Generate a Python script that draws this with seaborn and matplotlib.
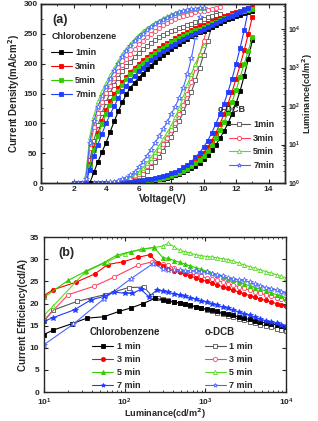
import numpy as np
import matplotlib
matplotlib.use("Agg")
import matplotlib.pyplot as plt
from matplotlib.lines import Line2D
from matplotlib.ticker import MultipleLocator, LogLocator, NullFormatter
import seaborn as sns

# ---------------------------------------------------------
# Data (a): J-V-L, voltage grid in 0.25 V steps
# ---------------------------------------------------------
volt = [2.0, 2.25, 2.5, 2.75, 3.0, 3.25, 3.5, 3.75, 4.0, 4.25, 4.5, 4.75,
        5.0, 5.25, 5.5, 5.75, 6.0, 6.25, 6.5, 6.75, 7.0, 7.25, 7.5, 7.75,
        8.0, 8.25, 8.5, 8.75, 9.0, 9.25, 9.5, 9.75, 10.0, 10.25, 10.5, 10.75,
        11.0, 11.25, 11.5, 11.75, 12.0, 12.25, 12.5, 12.75, 13.0]

# current density (mA/cm2), chlorobenzene, start at 2.0 V
cb1_J = [0, 0, 0, 0, 0, 0, 0, 0, 0, 0.1, 0.2, 0.3, 0.5, 0.8, 1.1, 1.5, 2.0, 2.6, 3.3, 4.1,
         5.0, 6.1, 7.4, 8.9, 10.6, 12.6, 15, 17.8, 21, 24.8, 29, 34, 40, 47, 55, 64,
         75, 87, 100, 116, 134, 155, 180, 208, 240]
cb3_J = [0, 0, 0, 0, 0, 0, 0, 0, 0.1, 0.2, 0.4, 0.6, 0.9, 1.3, 1.8, 2.4, 3.1, 3.9, 4.8,
         5.9, 7.1, 8.5, 10, 11.8, 13.8, 16, 18.8, 22, 26, 31, 36, 43, 51, 60, 71, 84,
         99, 115, 133, 153, 175, 198, 223, 250, 279]
cb5_J = [0, 0, 0, 0, 0, 0, 0, 0, 0, 0.1, 0.2, 0.4, 0.6, 0.9, 1.3, 1.8, 2.4, 3.1, 3.9,
         4.8, 5.9, 7.1, 8.5, 10.1, 12.3, 14.5, 17, 20, 24, 28, 33, 39, 46, 54, 64, 75,
         88, 102, 118, 136, 156, 178, 200, 222, 245]
cb7_J = [0, 0, 0, 0, 0, 0, 0, 0.1, 0.2, 0.4, 0.6, 0.9, 1.3, 1.8, 2.4, 3.1, 3.9, 4.8,
         5.9, 7.1, 8.5, 10, 11.8, 13.8, 16, 18.8, 22, 26, 31, 36, 43, 51, 60, 71, 84,
         99, 115, 133, 153, 175, 200, 227, 257, 290]

# current density (mA/cm2), o-DCB, start at 2.0 V
dcb1_J = [0, 0, 0, 0, 0, 0, 0, 0, 0, 0.3, 0.7, 1.3, 2.2, 3.5, 5.5, 8, 11, 15, 20, 27,
          35, 44, 54, 65, 77, 90, 104, 119, 135, 153, 172, 193, 215, 238, 262, 285]
dcb3_J = [0, 0, 0, 0, 0, 0, 0, 0, 0.3, 0.7, 1.3, 2.2, 3.3, 5, 7.5, 11, 15, 21, 28, 36,
          45, 55, 65, 76, 88, 101, 115, 131, 150, 170, 192, 215, 238, 265]
dcb5_J = [0, 0, 0, 0, 0, 0, 0, 0, 0.5, 1, 1.8, 2.8, 4, 6, 9, 13, 18, 25, 33, 42,
          52, 62, 73, 84, 96, 110, 125, 144, 165, 183, 200, 216, 232]
dcb7_J = [0, 0, 0, 0, 0, 0, 0, 0, 0.7, 1.3, 2.2, 3.5, 6, 9, 13, 19, 26, 35, 45, 56,
          67, 78, 90, 102, 115, 128, 143, 160, 182, 210, 245, 278]

# luminance, log10(cd/m2)
cb1_logL = [0.0, 0.28, 0.55, 0.8, 1.05, 1.33, 1.6, 1.86, 2.1, 2.3, 2.48, 2.61, 2.73,
            2.84, 2.95, 3.05, 3.15, 3.24, 3.32, 3.4, 3.48, 3.55, 3.62, 3.69, 3.75,
            3.81, 3.86, 3.91, 3.96, 4.01, 4.06, 4.11, 4.16, 4.2, 4.25, 4.29, 4.33,
            4.37, 4.41, 4.45, 4.48]                       # from 3.0 V
cb3_logL = [0.0, 0.5, 0.92, 1.3, 1.62, 1.9, 2.12, 2.3, 2.47, 2.62, 2.76, 2.88, 3.0,
            3.1, 3.19, 3.28, 3.36, 3.44, 3.51, 3.58, 3.64, 3.7, 3.76, 3.81, 3.87,
            3.92, 3.97, 4.02, 4.07, 4.11, 4.16, 4.2, 4.25, 4.29, 4.33, 4.37, 4.41,
            4.44, 4.48, 4.51, 4.54, 4.57]                 # from 2.75 V
cb5_logL = [0.0, 0.45, 0.85, 1.22, 1.53, 1.8, 2.03, 2.22, 2.39, 2.55, 2.69, 2.82,
            2.93, 3.04, 3.13, 3.22, 3.3, 3.38, 3.45, 3.52, 3.59, 3.65, 3.71, 3.76,
            3.82, 3.87, 3.92, 3.97, 4.01, 4.06, 4.1, 4.15, 4.19, 4.24, 4.28, 4.32,
            4.36, 4.4, 4.43, 4.47, 4.5, 4.53]             # from 2.75 V
cb7_logL = [0.0, 0.35, 0.7, 1.0, 1.28, 1.55, 1.78, 2.0, 2.2, 2.38, 2.53, 2.67, 2.79,
            2.9, 3.0, 3.1, 3.19, 3.27, 3.35, 3.42, 3.49, 3.56, 3.62, 3.68, 3.74, 3.8,
            3.85, 3.9, 3.95, 4.0, 4.05, 4.1, 4.15, 4.2, 4.25, 4.3, 4.35, 4.4, 4.45,
            4.5, 4.55]                                    # from 2.75 V
dcb1_logL = [0.6, 1.1, 1.5, 1.82, 2.1, 2.34, 2.55, 2.73, 2.9, 3.03, 3.15, 3.27, 3.38,
             3.47, 3.56, 3.64, 3.72, 3.78, 3.84, 3.89, 3.94, 3.98, 4.02, 4.06, 4.1,
             4.14, 4.18, 4.22, 4.26, 4.3, 4.34, 4.37, 4.4]  # from 3.0 V
dcb3_logL = [0.05, 0.9, 1.45, 1.82, 2.1, 2.33, 2.53, 2.72, 2.9, 3.06, 3.21, 3.35,
             3.48, 3.6, 3.7, 3.8, 3.88, 3.96, 4.03, 4.1, 4.16, 4.21, 4.26, 4.3, 4.34,
             4.37, 4.4, 4.43, 4.46, 4.48, 4.5, 4.53, 4.55, 4.56]  # from 2.75 V
dcb5_logL = [0.2, 1.2, 1.75, 2.12, 2.38, 2.6, 2.8, 2.98, 3.17, 3.35, 3.49, 3.62, 3.74,
             3.85, 3.94, 4.02, 4.09, 4.16, 4.22, 4.28, 4.33, 4.38, 4.42, 4.45, 4.48,
             4.5, 4.52, 4.53, 4.54, 4.55]                 # from 2.75 V
dcb7_logL = [0.1, 1.05, 1.6, 1.98, 2.26, 2.5, 2.71, 2.9, 3.09, 3.27, 3.42, 3.56, 3.68,
             3.79, 3.88, 3.97, 4.05, 4.12, 4.18, 4.24, 4.29, 4.34, 4.39, 4.43, 4.46,
             4.49, 4.51, 4.53, 4.54, 4.55]                # from 2.75 V

# ---------------------------------------------------------
# Data (b): current efficiency vs luminance
# ---------------------------------------------------------
tail_lum = [300, 350, 410, 480, 560, 650, 760, 890, 1040, 1210, 1410, 1650, 1920,
            2240, 2610, 3050, 3560, 4150, 4840, 5650, 6590, 7690, 8800, 10000]

cb1_lum = [10, 13, 22, 34, 55, 85, 120, 170, 240]
cb1_ce = [13.0, 14.0, 15.4, 16.7, 17.0, 18.2, 19.0, 20.0, 21.2]
cb1_tail = [20.8, 20.5, 20.3, 20.1, 19.8, 19.6, 19.3, 19.0, 18.7, 18.5, 18.2, 17.9,
            17.6, 17.3, 17.0, 16.7, 16.4, 16.1, 15.9, 15.6, 15.4, 15.2, 15.0, 14.8]
cb3_lum = [10, 13, 25, 43, 62, 95, 145, 205, 260]
cb3_ce = [21.8, 23.1, 24.8, 26.7, 28.8, 29.4, 30.4, 31.0, 29.1]
cb3_tail = [28.4, 27.8, 27.4, 27.0, 26.6, 26.2, 25.8, 25.4, 25.0, 24.6, 24.2, 23.8,
            23.4, 23.0, 22.6, 22.2, 21.8, 21.4, 21.0, 20.7, 20.3, 20.0, 19.7, 19.4]
cb5_lum = [10, 20, 33, 55, 80, 120, 170, 230]
cb5_ce = [21.4, 25.2, 27.3, 29.2, 30.9, 31.7, 32.2, 32.7]
cb5_tail = [30.3, 30.2, 29.7, 29.3, 28.9, 28.5, 28.1, 27.7, 27.3, 26.9, 26.5, 26.0,
            25.6, 25.2, 24.8, 24.4, 24.0, 23.6, 23.2, 22.8, 22.4, 22.0, 21.7, 21.3]
cb7_lum = [10, 13, 24, 38, 55, 75, 100, 125, 160, 200, 250]
cb7_ce = [16.0, 16.8, 18.6, 20.8, 21.6, 22.6, 22.3, 22.3, 23.2, 21.5, 23.0]
cb7_tail = [22.8, 22.5, 22.2, 21.9, 21.6, 21.3, 21.0, 20.6, 20.3, 20.0, 19.6, 19.2,
            18.9, 18.5, 18.1, 17.7, 17.3, 16.9, 16.5, 16.1, 15.8, 15.5, 15.2, 15.0]

dcb1_lum = [10, 13, 26, 57, 112, 175, 215, 260]
dcb1_ce = [16.0, 18.5, 20.5, 22.0, 23.6, 23.7, 21.8, 21.3]
dcb1_tail = [21.0, 20.7, 20.4, 20.1, 19.8, 19.5, 19.2, 18.9, 18.5, 18.2, 17.9, 17.6,
             17.2, 16.9, 16.5, 16.2, 15.8, 15.5, 15.2, 14.9, 14.6, 14.3, 14.0, 13.7]
dcb3_lum = [10, 20, 42, 75, 145, 220]
dcb3_ce = [16.2, 22.0, 23.9, 26.0, 28.6, 29.4]
dcb3_tail = [28.9, 28.6, 28.0, 27.4, 27.0, 26.7, 26.4, 26.1, 25.8, 25.5, 25.2, 24.8,
             24.5, 24.1, 23.8, 23.4, 23.0, 22.6, 22.3, 21.9, 21.6, 21.3, 21.0, 20.7]
dcb5_lum = [10, 13, 32, 60, 100, 160, 230]
dcb5_ce = [17.3, 19.4, 27.0, 29.4, 31.2, 32.3, 32.6]
dcb5_tail = [33.0, 33.6, 32.8, 32.0, 31.7, 31.4, 31.0, 30.8, 30.6, 30.5, 30.3, 30.1,
             29.9, 29.5, 29.1, 28.7, 28.3, 27.9, 27.6, 27.2, 26.8, 26.5, 26.1, 25.8]
dcb7_lum = [10, 23, 55, 120, 225]
dcb7_ce = [10.7, 15.3, 21.0, 25.6, 29.0]
dcb7_tail = [27.8, 27.6, 27.6, 27.5, 27.4, 27.3, 27.3, 27.2, 27.0, 26.7, 26.4, 26.1,
             25.8, 25.5, 25.3, 25.2, 24.8, 24.4, 24.0, 23.6, 23.3, 23.0, 22.7, 22.4]

labels_a = ["1min", "3min", "5min", "7min"]
labels_b = ["1 min", "3 min", "5 min", "7 min"]
cb_colors = ["#000000", "#ff0000", "#33cc00", "#1f3cff"]
dcb_colors = ["#555555", "#ff4060", "#55dd22", "#4a66ff"]

# ---------------------------------------------------------
# Style
# ---------------------------------------------------------
sns.set_style("ticks")
plt.rcParams["font.family"] = ["Liberation Sans", "DejaVu Sans"]
plt.rcParams["font.weight"] = "bold"
plt.rcParams["axes.labelweight"] = "bold"
plt.rcParams["axes.linewidth"] = 1.0
plt.rcParams["xtick.direction"] = "in"
plt.rcParams["ytick.direction"] = "in"
plt.rcParams["xtick.major.pad"] = 2
plt.rcParams["ytick.major.pad"] = 2.5
plt.rcParams["mathtext.default"] = "bf"

MS = 3.0
LW = 0.8


def draw(ax, x, y, color, marker, filled, ms=MS):
    sns.lineplot(x=x, y=y, ax=ax, color=color, marker=marker, markersize=ms,
                 linewidth=LW, markerfacecolor=color if filled else "white",
                 markeredgecolor=color, markeredgewidth=0.6,
                 estimator=None, sort=False, legend=False)


def handle(color, marker, filled, ms=MS):
    return Line2D([], [], color=color, marker=marker, markersize=ms, lw=LW,
                  markerfacecolor=color if filled else "white",
                  markeredgecolor=color, markeredgewidth=0.6)


def style_ticks(ax, fs=6):
    ax.tick_params(which="major", length=3, width=0.8, labelsize=fs)
    ax.tick_params(which="minor", length=1.5, width=0.6)
    for lab in ax.get_xticklabels() + ax.get_yticklabels():
        lab.set_fontweight("bold")


fig = plt.figure(figsize=(3.18, 4.21), dpi=100)

# ---------------------------------------------------------
# (a)
# ---------------------------------------------------------
ax = fig.add_axes([0.129, 0.5653, 0.767, 0.4252])
ax2 = ax.twinx()
ax2.set_yscale("log")

cb_J = [cb1_J, cb3_J, cb5_J, cb7_J]
dcb_J = [dcb1_J, dcb3_J, dcb5_J, dcb7_J]
cb_L = [(cb1_logL, 4), (cb3_logL, 3), (cb5_logL, 3), (cb7_logL, 3)]
dcb_L = [(dcb1_logL, 4), (dcb3_logL, 3), (dcb5_logL, 3), (dcb7_logL, 3)]
dcb_markers = ["s", "o", "^", "*"]

for i in range(4):
    draw(ax, volt[:len(cb_J[i])], cb_J[i], cb_colors[i], "s", True)
    draw(ax, volt[:len(dcb_J[i])], dcb_J[i], dcb_colors[i], dcb_markers[i], False,
         ms=MS + (1 if dcb_markers[i] == "*" else 0))
for i in range(4):
    vals, s = cb_L[i]
    draw(ax2, volt[s:s + len(vals)], 10 ** np.array(vals), cb_colors[i], "s", True)
    vals, s = dcb_L[i]
    draw(ax2, volt[s:s + len(vals)], 10 ** np.array(vals), dcb_colors[i],
         dcb_markers[i], False, ms=MS + (1 if dcb_markers[i] == "*" else 0))

ax.set_xlim(0, 15)
ax.set_ylim(0, 300)
ax.xaxis.set_major_locator(MultipleLocator(2))
ax.xaxis.set_minor_locator(MultipleLocator(1))
ax.yaxis.set_major_locator(MultipleLocator(50))
ax.yaxis.set_minor_locator(MultipleLocator(25))
ax.set_xlabel("Voltage(V)", fontsize=7, labelpad=1)
ax.set_ylabel("Current Density(mA/cm$^2$)", fontsize=7, labelpad=1)
ax.tick_params(top=True, which="both")
style_ticks(ax)

ax2.set_ylim(1, 10 ** 4.65)
ax2.yaxis.set_major_locator(LogLocator(base=10, numticks=10))
ax2.yaxis.set_minor_locator(LogLocator(base=10, subs=np.arange(2, 10), numticks=10))
ax2.yaxis.set_minor_formatter(NullFormatter())
ax2.set_ylabel("Luminance(cd/m$^2$)", fontsize=6.5, labelpad=0)
style_ticks(ax2, fs=5)

ax2.text(0.045, 0.91, "(a)", transform=ax2.transAxes, fontsize=9,
         fontweight="bold", va="center")
ax2.text(0.045, 0.82, "Chlorobenzene", transform=ax2.transAxes, fontsize=6.5,
         fontweight="bold", va="center")
leg1 = ax2.legend([handle(c, "s", True) for c in cb_colors], labels_a,
                  loc="upper left", bbox_to_anchor=(0.04, 0.755), frameon=False,
                  handlelength=2.3, handletextpad=0.4, labelspacing=0.55,
                  borderpad=0, borderaxespad=0, prop={"size": 6.5, "weight": "bold"})
ax2.add_artist(leg1)
ax2.text(0.725, 0.413, "o-DCB", transform=ax2.transAxes, fontsize=6.5,
         fontweight="bold", va="center")
ax2.legend([handle(dcb_colors[i], dcb_markers[i], False) for i in range(4)],
           labels_a, loc="upper left", bbox_to_anchor=(0.77, 0.35), frameon=False,
           handlelength=2.3, handletextpad=0.4, labelspacing=0.5,
           borderpad=0, borderaxespad=0, prop={"size": 6.5, "weight": "bold"})

# ---------------------------------------------------------
# (b)
# ---------------------------------------------------------
bx = fig.add_axes([0.138, 0.0685, 0.761, 0.3685])
bx.set_xscale("log")

cb_b = [(cb1_lum, cb1_ce, cb1_tail), (cb3_lum, cb3_ce, cb3_tail),
        (cb5_lum, cb5_ce, cb5_tail), (cb7_lum, cb7_ce, cb7_tail)]
dcb_b = [(dcb1_lum, dcb1_ce, dcb1_tail), (dcb3_lum, dcb3_ce, dcb3_tail),
         (dcb5_lum, dcb5_ce, dcb5_tail), (dcb7_lum, dcb7_ce, dcb7_tail)]
b_markers = ["s", "o", "^", "*"]

for i in range(4):
    ms = MS + (1 if b_markers[i] == "*" else 0)
    lum, ce, tail = dcb_b[i]
    draw(bx, lum + tail_lum, ce + tail, dcb_colors[i], b_markers[i], False, ms=ms)
    lum, ce, tail = cb_b[i]
    draw(bx, lum + tail_lum, ce + tail, cb_colors[i], b_markers[i], True, ms=ms)

bx.set_xlim(10, 1e4)
bx.set_ylim(0, 35)
bx.yaxis.set_major_locator(MultipleLocator(5))
bx.xaxis.set_major_locator(LogLocator(base=10, numticks=10))
bx.xaxis.set_minor_locator(LogLocator(base=10, subs=np.arange(2, 10), numticks=10))
bx.xaxis.set_minor_formatter(NullFormatter())
bx.set_xlabel("Luminance(cd/m$^2$)", fontsize=6.6, labelpad=-0.5)
bx.set_ylabel("Current Efficiency(cd/A)", fontsize=7, labelpad=1)
bx.tick_params(top=True, right=True, which="both")
bx.tick_params(axis="x", pad=3)
bx.tick_params(axis="y", pad=3.5)
style_ticks(bx)

bx.text(0.058, 0.9, "(b)", transform=bx.transAxes, fontsize=9,
        fontweight="bold", va="center")
bx.text(0.19, 0.385, "Chlorobenzene", transform=bx.transAxes, fontsize=7,
        fontweight="bold", va="center")
bx.text(0.665, 0.385, "o-DCB", transform=bx.transAxes, fontsize=7,
        fontweight="bold", va="center")
leg2 = bx.legend([handle(cb_colors[i], b_markers[i], True) for i in range(4)],
                 labels_b, loc="upper left", bbox_to_anchor=(0.2, 0.325),
                 frameon=False, handlelength=2.3, handletextpad=0.4,
                 labelspacing=0.45, borderpad=0, borderaxespad=0,
                 prop={"size": 6.5, "weight": "bold"})
bx.add_artist(leg2)
bx.legend([handle(dcb_colors[i], b_markers[i], False) for i in range(4)],
          labels_b, loc="upper left", bbox_to_anchor=(0.665, 0.325),
          frameon=False, handlelength=2.3, handletextpad=0.4,
          labelspacing=0.45, borderpad=0, borderaxespad=0,
          prop={"size": 6.5, "weight": "bold"})

fig.savefig("out.png", dpi=100)
